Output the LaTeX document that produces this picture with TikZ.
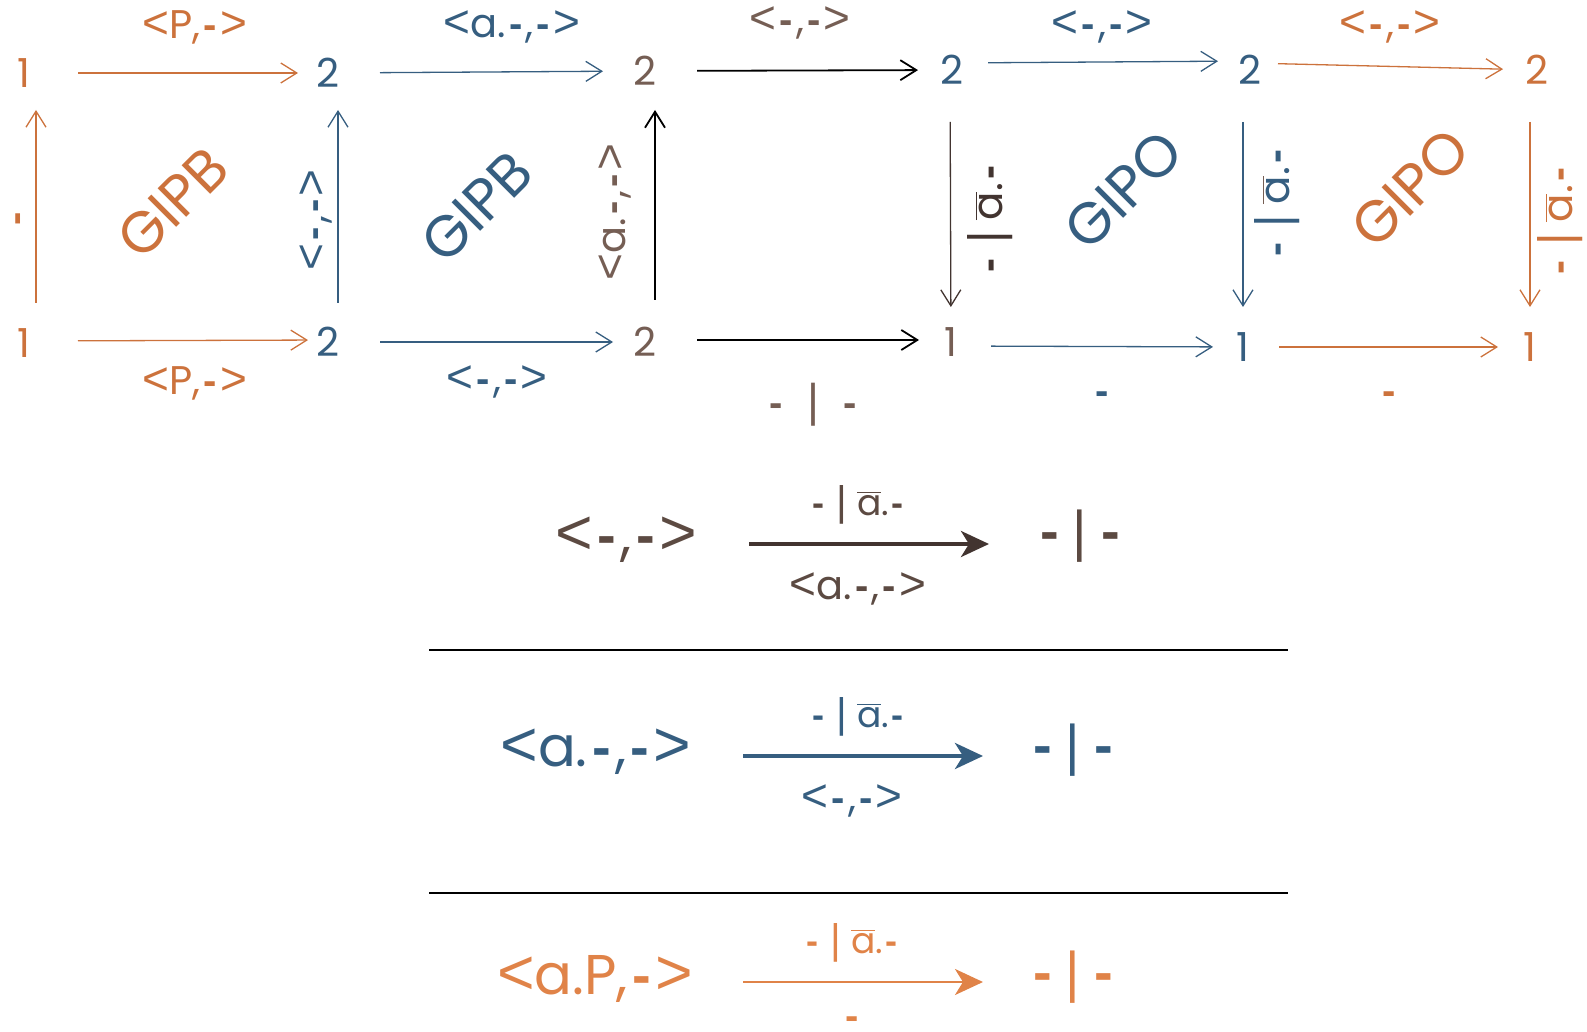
\documentclass[tikz,border=0pt]{standalone}
\usepackage{fontspec}
\setmainfont{Poppins}
\newfontfamily\symf[Scale=1.15]{Liberation Sans}
\newfontfamily\dashf{Liberation Sans}
\usepackage{xcolor}
\usepackage{tikz}
\usetikzlibrary{arrows.meta,positioning}

\definecolor{gorange}{RGB}{204,114,60}
\definecolor{lorange}{RGB}{224,131,72}
\definecolor{gblue}{RGB}{54,94,128}
\definecolor{gbrown}{RGB}{117,94,84}
\definecolor{lbrown}{RGB}{92,74,66}
\definecolor{gdark}{RGB}{66,52,48}

\newcommand{\abar}{$\overline{\mbox{a}}$}
\newcommand{\hy}{\kern0.08em{\dashf\bfseries-}\kern0.08em}
\newcommand{\lt}{{\symf<}}
\newcommand{\gt}{{\symf>}}
\newcommand{\pipe}{{\symf|}}
\newcommand{\bigpipe}{{\dashf|}}

\begin{document}
\begin{tikzpicture}[
		x=0.5pt, y=-0.5pt,
		obj/.style={inner sep=0pt, font=\fontsize{20}{24}\selectfont},
		lab/.style={inner sep=0pt, font=\fontsize{20}{24}\selectfont},
		vlab/.style={lab, rotate=90},
		wlab/.style={inner sep=0pt, rotate=90, font=\fontsize{21}{25}\selectfont},
		region/.style={inner sep=0pt, rotate=45, font=\fontsize{29}{34}\selectfont},
		big/.style={inner sep=0pt, font=\fontsize{28}{34}\selectfont},
		small/.style={inner sep=0pt, font=\fontsize{18}{22}\selectfont},
		arrow/.style={
			-{Straight Barb[length=8pt,width=10pt]},
			line width=0.65pt
		},
		bigarrow/.style={
			-{Stealth[length=14pt,width=13pt,inset=4pt]},
			line width=2pt
		}
		]
		\useasboundingbox (0,0) rectangle (1587,1032);
		
		% objects of the two squares
		\node[obj, gorange] (top1) at (24,73) {1};
		\node[obj, gblue] (top2) at (328,73) {2};
		\node[obj, gbrown] (top3) at (645,71) {2};
		\node[obj, gblue] (top4) at (952,70) {2};
		\node[obj, gblue] (top5) at (1250,70) {2};
		\node[obj, gorange] (top6) at (1537,70) {2};
		
		\node[obj, gorange] (bot1) at (24,343) {1};
		\node[obj, gblue] (bot2) at (328,342) {2};
		\node[obj, gbrown] (bot3) at (645,342) {2};
		\node[obj, gbrown] (bot4) at (951,342) {1};
		\node[obj, gblue] (bot5) at (1243,347) {1};
		\node[obj, gorange] (bot6) at (1530,347) {1};
		
		% horizontal arrows
		\draw[arrow, gorange, shorten <=27pt, shorten >=15pt] (top1.center) -- (top2.center);
		\draw[arrow, gblue, shorten <=26pt, shorten >=21pt] (top2.center) -- (top3.center);
		\draw[arrow, black, line width=0.9pt, shorten <=26pt, shorten >=17pt] (top3.center) -- (top4.center);
		\draw[arrow, gblue, shorten <=18pt, shorten >=16pt] ([yshift=3.5pt]top4.center) -- ([yshift=4.5pt]top5.center);
		\draw[arrow, gorange, shorten <=14pt, shorten >=17pt] ([yshift=3.5pt]top5.center) -- (top6.center);
		
		\draw[arrow, gorange, shorten <=27pt, shorten >=10pt] ([yshift=1pt]bot1.center) -- ([yshift=1pt]bot2.center);
		\draw[arrow, gblue, shorten <=26pt, shorten >=16pt] (bot2.center) -- (bot3.center);
		\draw[arrow, black, line width=0.9pt, shorten <=26pt, shorten >=16pt] ([yshift=1pt]bot3.center) -- ([yshift=1pt]bot4.center);
		\draw[arrow, gblue, shorten <=20pt, shorten >=15pt] ([yshift=-2pt]bot4.center) -- (bot5.center);
		\draw[arrow, gorange, shorten <=18pt, shorten >=16pt] (bot5.center) -- (bot6.center);
		
		% vertical arrows
		\draw[arrow, gorange, shorten <=20pt, shorten >=18.5pt] ([xshift=6pt]bot1.center) -- ([xshift=6pt]top1.center);
		\draw[arrow, gblue, shorten <=19.5pt, shorten >=18.5pt] ([xshift=5pt]bot2.center) -- ([xshift=5pt]top2.center);
		\draw[arrow, black, line width=0.9pt, shorten <=21pt, shorten >=19.5pt] ([xshift=5pt]bot3.center) -- ([xshift=5pt]top3.center);
		\draw[arrow, gdark, shorten <=26pt, shorten >=17.5pt] ([xshift=-1pt]top4.center) -- (bot4.center);
		\draw[arrow, gblue, shorten <=26pt, shorten >=20pt] ([xshift=-3.5pt]top5.center) -- (bot5.center);
		\draw[arrow, gorange, shorten <=26pt, shorten >=20pt] ([xshift=-3.5pt]top6.center) -- (bot6.center);
		
		% labels of the arrows
		\node[lab, gorange] (ltop1) at (195,27) {\lt P,\hy\gt};
		\node[lab, gblue] (ltop2) at (512,27) {\lt a.\hy,\hy\gt};
		\node[lab, gbrown] (ltop3) at (800,23) {\lt\hy,\hy\gt};
		\node[lab, gblue] (ltop4) at (1102,27) {\lt\hy,\hy\gt};
		\node[lab, gorange] (ltop5) at (1390,27) {\lt\hy,\hy\gt};
		
		\node[lab, gorange] (lbot1) at (195,383) {\lt P,\hy\gt};
		\node[lab, gblue] (lbot2) at (497,382) {\lt\hy,\hy\gt};
		\node[lab, gbrown] (lbot3) at (813,405) {\hy~~\pipe~~\hy};
		\node[lab, gblue] (lbot4) at (1102,398) {\hy};
		\node[lab, gorange] (lbot5) at (1389,398) {\hy};
		
		\node[vlab, gorange] (lver1) at (22,219) {\hy};
		\node[vlab, gblue] (lver2) at (316,220) {\lt\hy,\hy\gt};
		\node[vlab, gbrown] (lver3) at (615,212) {\lt a.\hy,\hy\gt};
		\node[wlab, gdark] (lver4) at (990,219) {\hy\ \pipe\ \abar.\hy};
		\node[wlab, gblue] (lver5) at (1277,203) {\hy\ \pipe\ {\color{gbrown}$\overline{\mbox{\color{gblue}a}}$}.\hy};
		\node[wlab, gorange] (lver6) at (1560,221) {\hy\ \pipe\ \abar.\hy};
		
		% names of the squares
		\node[region, gorange] (sq1) at (173,203) {GIPB};
		\node[region, gblue] (sq2) at (477,207) {GIPB};
		\node[region, gblue] (sq3) at (1123,190) {GIPO};
		\node[region, gorange] (sq4) at (1410,188) {GIPO};
		
		% the three rules
		\node[big, lbrown] (src1) at (626,540) {\lt\hy,\hy\gt};
		\node[big, lbrown] (tgt1) at (1080,536) {\hy\,\bigpipe\,\hy};
		\node[small, lbrown] (up1) at (858,505) {\hy\ \pipe\ \abar.\hy};
		\node[lab, lbrown] (dn1) at (858,589) {\lt a.\hy,\hy\gt};
		\draw[bigarrow, gdark] ([xshift=61.5pt,yshift=-2pt]src1.center) -- ([xshift=-45.5pt,yshift=-4pt]tgt1.center);
		
		\draw[line width=1pt] (429,650) -- (1288,650);
		
		\node[big, gblue] (src2) at (596,752) {\lt a.\hy,\hy\gt};
		\node[big, gblue] (tgt2) at (1073,750) {\hy\,\bigpipe\,\hy};
		\node[small, gblue] (up2) at (858,717) {\hy\ \pipe\ \abar.\hy};
		\node[lab, gblue] (dn2) at (852,801) {\lt\hy,\hy\gt};
		\draw[bigarrow, gblue] ([xshift=73.5pt,yshift=-2pt]src2.center) -- ([xshift=-45pt,yshift=-3pt]tgt2.center);
		
		\draw[line width=1pt] (429,893) -- (1288,893);
		
		\node[big, lorange] (src3) at (595,979) {\lt a.P,\hy\gt};
		\node[big, lorange] (tgt3) at (1073,977) {\hy\,\bigpipe\,\hy};
		\node[small, lorange] (up3) at (852,943) {\hy\ \pipe\ \abar.\hy};
		\node[lab, lorange] (dn3) at (852,1023) {\hy};
		\draw[bigarrow, lorange, line width=1.3pt] ([xshift=74pt,yshift=-1.5pt]src3.center) -- ([xshift=-45pt,yshift=-2.5pt]tgt3.center);
		
	\end{tikzpicture}
\end{document}
